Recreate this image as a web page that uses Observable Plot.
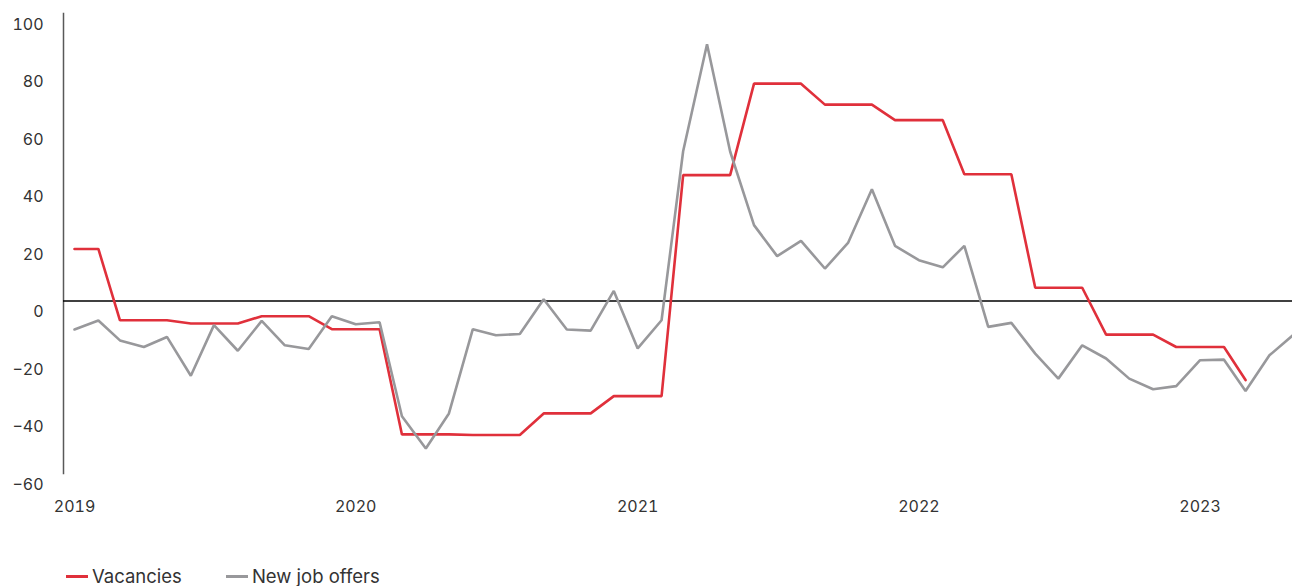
<!DOCTYPE html>
<html>
<head>
<meta charset="utf-8">
<script src="https://cdn.jsdelivr.net/npm/d3@7"></script>
<script src="https://cdn.jsdelivr.net/npm/@observablehq/plot@0.6"></script>
<style>
  html, body { margin: 0; padding: 0; background: #fff; overflow: hidden; }
  body { font-family: Inter, "Noto Sans", sans-serif; color: #333; width: 1292px; }
  #legend { display: flex; align-items: center; margin-top: 11px; padding-left: 66px; font-size: 18.5px; line-height: 20px; color: #333; }
  .item { display: flex; align-items: center; margin-right: 44px; }
  .swatch { width: 22px; height: 3px; margin-right: 4px; }
</style>
</head>
<body>
<div id="chart"></div>
<div id="legend"></div>
<script>
// Monthly index values, January 2019 onwards
const firstMonth = new Date(Date.UTC(2019, 0, 1));

const vacancies = [
  18.1, 18.1, -6.7, -6.7, -6.7, -7.8, -7.8, -7.8, -5.3, -5.3, -5.3, -9.8,
  -9.8, -9.8, -46.4, -46.4, -46.4, -46.6, -46.6, -46.6, -39.1, -39.1, -39.1, -33.1,
  -33.1, -33.1, 43.8, 43.8, 43.8, 75.6, 75.6, 75.6, 68.3, 68.3, 68.3, 62.9,
  62.9, 62.9, 44.1, 44.1, 44.1, 4.6, 4.6, 4.6, -11.7, -11.7, -11.7, -16.0,
  -16.0, -16.0, -27.5
];

const newJobOffers = [
  -9.9, -6.8, -13.7, -16.0, -12.5, -26.0, -8.4, -17.3, -6.9, -15.4, -16.7, -5.3,
  -8.1, -7.4, -40.1, -51.3, -39.1, -9.8, -11.9, -11.5, 0.6, -9.9, -10.3, 3.5,
  -16.5, -6.7, 52.1, 89.3, 52.0, 26.4, 15.6, 20.9, 11.3, 20.2, 38.9, 19.2,
  14.2, 11.7, 19.2, -9.0, -7.6, -18.3, -27.0, -15.4, -20.0, -27.0, -30.7, -29.6,
  -20.6, -20.4, -31.3, -18.9, -12.0
];

const yTicks = [-60, -40, -20, 0, 20, 40, 60, 80, 100];
const yearTicks = [2019, 2020, 2021, 2022, 2023];

const seriesNames = ["Vacancies", "New job offers"];
const seriesColors = ["#e0303b", "#98989b"];

const monthDate = i => d3.utcMonth.offset(firstMonth, i);
const rows = [
  ...vacancies.map((v, i) => ({date: monthDate(i), value: v, series: seriesNames[0]})),
  ...newJobOffers.map((v, i) => ({date: monthDate(i), value: v, series: seriesNames[1]}))
];

const chart = Plot.plot({
  width: 1292,
  height: 555,
  marginLeft: 63,
  marginRight: 0,
  marginTop: 13,
  marginBottom: 82,
  style: {fontFamily: "Inter, 'Noto Sans', sans-serif", fontSize: "16px", color: "#333", overflow: "hidden"},
  x: {
    type: "utc",
    domain: [new Date(Date.UTC(2019, 0, 1)), new Date(Date.UTC(2023, 0, 1))],
    range: [74, 1199.6]
  },
  y: {domain: [-60, 100]},
  color: {domain: seriesNames, range: seriesColors},
  marks: [
    Plot.frame({anchor: "left", stroke: "#595959", strokeWidth: 1.5}),
    Plot.ruleY([0], {stroke: "#000", strokeWidth: 1.3}),
    Plot.axisY({ticks: yTicks, tickSize: 0, tickPadding: 20, dy: 11, label: null, fill: "#333"}),
    Plot.axisX({
      ticks: yearTicks.map(y => new Date(Date.UTC(y, 0, 1))),
      tickFormat: d3.utcFormat("%Y"),
      tickSize: 0, tickPadding: 27, label: null, fill: "#333"
    }),
    Plot.line(rows, {x: "date", y: "value", z: "series", stroke: "series", strokeWidth: 2.6, strokeLinejoin: "miter"})
  ]
});
document.getElementById("chart").append(chart);

// Legend below the chart
const legend = document.getElementById("legend");
seriesNames.forEach((name, i) => {
  const item = document.createElement("div");
  item.className = "item";
  const sw = document.createElement("span");
  sw.className = "swatch";
  sw.style.background = seriesColors[i];
  const label = document.createElement("span");
  label.textContent = name;
  item.append(sw, label);
  legend.append(item);
});
</script>
</body>
</html>
